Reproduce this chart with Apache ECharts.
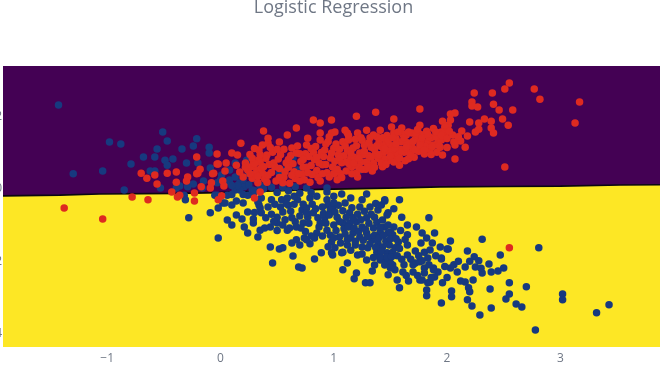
<!DOCTYPE html>
<html><head><meta charset="utf-8">
<script src="https://cdn.jsdelivr.net/npm/echarts@6/dist/echarts.min.js"></script>
<style>html,body{margin:0;padding:0;background:#fff;overflow:hidden}#c{width:660px;height:371px;filter:blur(0.45px)}</style>
</head><body><div id="c"></div>
<script>
const titleText = 'Logistic Regression';
const xTicks = [-1, 0, 1, 2, 3];
const yTicks = [-4, -2, 0, 2];
const boundary = [[-1.92,-0.19],[-1.42,-0.17],[-1.07,-0.14],[-0.36,-0.12],[-0.01,-0.10],[0.88,-0.01],[1.59,0.03],[1.94,0.06],[2.47,0.07],[3.0,0.08],[3.53,0.11],[3.88,0.12]];
const classA = [
[-1.43,2.33],[-0.98,1.30],[-0.88,1.25],[-1.04,0.50],[-1.30,0.42],[-0.79,0.69],[-0.68,0.89],[-0.51,1.58],[-0.47,1.33],[-0.56,1.11],[-0.58,0.89],[-0.49,0.80],[-0.47,0.66],[-0.42,0.83],[-0.34,1.11],[-0.21,1.39],[-0.24,1.19],[-0.10,1.16],[-0.10,1.00],[-0.30,0.72],[-0.20,0.72],[-0.09,0.58],[-0.62,0.50],[-0.58,0.50],[-0.85,-0.03],[-0.53,0.03],[-0.36,0.08],[-0.39,0.03],[-0.24,0.14],[-0.29,0.06],[-0.15,0.22],[-0.16,0.03],[-0.32,-0.17],[-0.31,-0.30],[-0.03,-0.17],[-0.03,0.17],[0.04,-0.39],[0.10,-0.44],[0.14,-0.33],[0.20,-0.39],[0.36,-0.25],[0.34,-0.44],[0.24,-0.17],[0.13,-0.03],[0.08,0.25],[0.08,0.53],[0.13,0.33],[0.17,0.17],[0.21,0.06],[0.17,-0.03],[0.23,0.80],[0.13,0.72],[0.01,0.39],[-0.05,-0.17],[0.06,-0.17],[0.28,-0.03],[0.29,-0.17],[-0.02,-0.53],[1.23,0.53],[0.54,0.53],[0.52,0.44],[0.64,0.86],[0.68,0.53],[0.41,0.17],[0.66,0.06],[0.94,0.03],[0.76,0.03],[0.54,0.39],
[-0.28,-0.80],[-0.02,-1.36],[-0.09,-0.66],[0.02,-0.39],[0.06,-0.86],[0.10,-1.00],[0.14,-0.72],[0.19,-0.83],[0.21,-1.05],[0.24,-1.22],[0.24,-0.64],[0.29,-0.83],[0.29,-0.94],[0.33,-1.33],[0.35,-1.14],[0.39,-1.08],[0.44,-1.05],[0.50,-0.94],[0.50,-0.78],[0.33,-0.36],[0.35,-0.53],[0.36,-0.66],[0.42,-0.50],[0.48,-0.42],[0.55,-0.64],[0.54,-0.30],[0.59,-0.25],[0.63,-0.80],[0.66,-0.91],[0.67,-1.05],[0.59,-1.14],[0.61,-1.08],[0.44,-1.61],[0.52,-1.66],[0.55,-1.63],[0.46,-2.05],[0.64,-1.86],[0.69,-2.16],[0.72,-2.19],[0.83,-1.94],[0.89,-1.77],[0.63,-1.50],[0.67,-1.41],[0.70,-1.55],[0.74,-1.36],[0.79,-1.52],[0.85,-1.22],[0.83,-1.36],[0.72,-0.58],[0.73,-0.94],[0.77,-0.78],[0.82,-0.66],[0.76,-0.53],[0.68,-0.30],[0.79,-0.25],[0.94,-0.30],[0.95,-0.44],[0.86,-0.80],[0.92,-0.80],[0.94,-1.14],[0.98,-1.47],[1.01,-1.63],[0.99,-1.83],[1.07,-1.77],[1.12,-1.55],[1.12,-2.05],[1.08,-2.24],[1.20,-2.33],[1.18,-2.49],[1.28,-2.60],[1.32,-2.60],[1.34,-2.27],[1.29,-0.14],[1.07,-0.14],[0.94,-0.08],[1.45,-0.30],[1.58,-0.30],[1.60,-0.78],[1.84,-0.80],[1.73,-1.05],[1.65,-1.00],[1.65,-1.27],[1.78,-1.22],[1.82,-1.36],[1.89,-1.22],[1.87,-1.50],[1.80,-1.75],[1.72,-1.72],[1.65,-1.55],[1.65,-1.83],[1.94,-1.61],[2.00,-1.66],[1.95,-1.91],[1.83,-1.91],[1.76,-2.02],[1.72,-2.05],[1.80,-2.19],[1.70,-2.30],[1.80,-2.33],[1.88,-2.19],[1.92,-2.30],[1.89,-2.44],[1.83,-2.60],[1.76,-2.52],[1.96,-2.60],[1.82,-2.80],[1.82,-2.96],[1.58,-2.74],[1.56,-2.52],[1.48,-2.38],[1.61,-2.30],[1.52,-2.11],[1.47,-2.02],[1.41,-1.97],[1.36,-2.11],
[0.98,-1.77],[1.05,-1.33],[1.12,-1.41],[1.17,-1.22],[1.23,-1.33],[1.29,-1.22],[1.34,-1.41],[1.39,-1.50],[1.43,-1.61],[1.19,-1.55],[1.25,-1.61],[1.30,-1.63],[1.21,-1.83],[1.29,-1.97],[1.38,-1.75],[1.47,-1.77],[1.52,-1.75],[1.08,-1.75],[0.76,-1.41],[0.88,-0.94],[0.76,-0.66],[0.97,-0.58],[0.99,-0.50],[1.03,-0.78],[1.08,-0.94],[1.14,-0.66],[1.14,-0.94],[1.20,-0.91],[1.29,-0.80],[1.36,-0.78],[1.39,-0.58],[1.42,-0.44],[1.32,-0.50],[1.23,-0.50],[1.10,-0.39],[1.48,-0.66],[1.45,-1.05],[1.50,-1.19],[1.41,-1.19],[1.57,-1.47],[1.52,-1.27],[1.54,-1.63],[1.43,-1.91],[1.50,-2.05],[1.54,-2.24],
[2.03,-1.44],[2.31,-1.39],[2.81,-1.63],[2.18,-1.72],[2.47,-1.83],[2.24,-1.88],[2.28,-1.99],[2.37,-2.08],[2.50,-2.19],[2.45,-2.27],[2.39,-2.30],[2.31,-2.33],[2.25,-2.16],[2.16,-2.16],[2.09,-2.30],[2.03,-2.19],[1.95,-1.94],[2.01,-1.66],[1.85,-1.69],[1.78,-1.99],[1.88,-2.24],[1.85,-2.58],[1.78,-2.52],[2.04,-2.83],[2.04,-2.99],[1.95,-3.16],[2.18,-3.07],[2.22,-3.24],[2.29,-3.49],[2.39,-3.30],[2.19,-2.74],[2.20,-2.85],[2.16,-2.58],[2.23,-2.52],[2.38,-2.77],[2.55,-2.60],[2.55,-2.91],[2.52,-3.05],[2.61,-3.19],[2.66,-3.27],[2.70,-2.71],[3.02,-2.91],[3.02,-3.07],[2.78,-3.91],[3.32,-3.43],[3.43,-3.21],[1.41,-1.88],[1.47,-1.88],[1.45,-2.11],[1.50,-2.19],[1.48,-1.22],[1.48,-1.00],[1.43,-0.86],[1.47,-0.72],[1.45,-0.33],
[0.45,-0.70],[0.47,-0.90],[0.53,-0.50],[0.57,-0.85],[0.60,-0.45],[0.62,-0.62],[0.65,-0.42],[0.70,-0.75],[0.71,-1.08],[0.75,-1.18],[0.78,-0.95],[0.80,-1.30],[0.81,-0.42],[0.84,-0.55],[0.87,-1.05],[0.90,-0.50],[0.91,-0.68],[0.93,-0.95],[0.96,-0.72],[0.97,-1.28],[1.00,-1.00],[1.01,-0.64],[1.02,-1.15],[1.04,-0.45],[1.05,-0.90],[1.06,-1.50],[1.08,-0.60],[1.09,-1.10],[1.10,-1.25],[1.11,-0.78],[1.13,-1.05],[1.15,-1.35],[1.16,-0.52],[1.17,-0.80],[1.18,-1.08],[1.19,-1.45],[1.21,-0.70],[1.22,-1.18],[1.24,-0.85],[1.25,-1.05],[1.26,-1.42],[1.27,-0.62],[1.28,-1.12],[1.30,-1.32],[1.31,-0.95],[1.32,-1.52],[1.33,-0.70],[1.35,-1.08],[1.36,-1.28],[1.37,-1.62],[1.38,-0.92],[1.40,-1.35],[1.41,-1.06],[1.42,-1.72],[1.44,-1.28],[1.46,-1.45],[1.49,-1.55],[1.50,-1.38],[1.51,-1.88],[1.53,-1.05],[1.55,-1.38],[1.56,-1.85],[1.58,-1.65],[1.59,-1.15],[1.60,-1.95],[1.62,-2.10],[1.63,-1.40],[1.64,-2.40],[1.66,-2.55],[1.68,-1.95],[1.70,-2.10],[1.74,-2.40],[1.75,-1.85],[1.77,-1.50],[1.84,-2.10],[1.86,-2.45],[1.90,-1.85],[1.98,-2.15],[2.00,-2.45],[2.06,-2.10],[2.10,-2.00],[2.12,-2.55],[2.20,-2.00],[2.30,-2.20],[1.00,-1.35],[0.90,-1.30],[0.95,-1.60],[1.15,-1.70],[1.25,-1.80],[1.35,-1.90],[0.30,-0.65],[0.40,-0.80],[0.45,-0.30],[0.50,-1.15],[0.55,-1.00],[0.58,-0.40],[0.65,-0.20],[0.73,-0.42],[0.85,-0.20],[1.00,-0.20],[1.15,-0.25],[1.00,-0.38],[1.25,-0.30],[1.37,-0.40],[1.53,-0.55],
[0.20,0.25],[0.25,0.12],[0.30,-0.05],[0.35,0.10],[0.15,0.10],[0.10,0.10],[0.05,0.20],[0.00,0.25],[0.10,-0.15],[0.20,-0.15],[0.38,0.00],[0.45,0.05],[0.50,-0.10],[0.55,0.05],[0.60,-0.05],[0.70,-0.12],[0.80,-0.10],[0.25,0.42],[0.30,0.28]
];
const classB = [
[-0.21,0.89],[-0.70,0.44],[-0.65,0.30],[-0.58,0.39],[-0.56,0.14],[-0.47,0.44],[-0.39,0.47],[-0.39,0.19],[-0.29,0.33],[-0.30,0.22],[-0.18,0.55],[-0.21,0.42],[-0.07,0.42],[-0.03,0.97],[-0.03,0.69],[-0.08,0.17],[-0.78,-0.22],[-0.64,-0.30],[-0.38,-0.22],[-0.23,-0.11],[-0.23,-0.33],[-0.43,-0.08],[-0.17,0.06],[-0.09,0.03],[-1.38,-0.53],[-1.04,-0.83],[0.18,1.27],[0.38,1.61],[0.10,1.00],[0.15,0.94],[0.34,1.08],[-0.02,0.69],[0.05,0.72],[-0.20,0.44],[-0.06,0.44],[0.04,0.50],[0.02,0.22],[0.03,0.08],[-0.36,-0.17],[-0.02,-0.30],[0.01,-0.19],[0.30,-0.25],[0.35,-0.08],[0.29,0.72],[0.35,0.75],[0.41,0.94],[0.42,1.27],[0.32,0.53],[0.24,0.53],[0.17,0.47],[0.20,0.33],[0.28,0.30],[0.37,0.44],[0.41,0.19],[0.33,0.17],[0.14,0.66],
[0.67,1.69],[0.82,1.91],[0.88,1.83],[0.98,1.91],[1.20,2.02],[1.37,2.13],[1.53,1.94],[1.76,2.22],[1.76,1.77],[1.58,0.66],[1.21,0.33],
[2.55,2.94],[2.51,2.77],[2.40,2.66],[2.24,2.66],[2.22,2.41],[2.22,2.30],[2.27,2.27],[2.41,2.35],[2.46,2.19],[2.58,2.19],[2.77,2.77],[2.82,2.49],[3.17,2.41],[3.13,1.83],[2.51,0.61],[2.07,0.83],[2.07,2.11],[2.03,2.08],[1.96,1.88],[2.03,1.91],[2.01,1.77],[1.98,1.72],[1.99,1.58],[1.95,1.58],[2.20,1.86],[2.33,1.94],[2.39,1.88],[2.49,1.94],[2.54,1.77],[2.28,1.83],[2.28,1.66],[2.13,1.61],[2.25,1.58],[2.18,1.47],[2.39,1.69],[2.41,1.55],[2.12,1.33],[2.06,1.30],[2.07,1.22],[2.16,1.16],[1.95,1.36],[1.96,0.94],[1.94,1.16],[2.55,-1.63],
[0.42,1.41],[0.37,1.22],[0.52,1.30],[0.59,1.50],[0.63,1.14],[0.77,1.41],[0.76,1.22],[0.88,1.55],[0.88,1.36],[0.98,1.55],[1.01,1.58],[1.10,1.63],[1.12,1.55],[1.21,1.55],[1.29,1.63],[1.41,1.63],[1.51,1.72],[1.60,1.69],[1.69,1.55],[1.79,1.50],[1.83,1.30],[1.88,1.22],[1.92,1.30],
[0.26,0.96],[0.27,0.62],[0.31,0.41],[0.34,0.81],[0.36,0.58],[0.39,0.28],[0.43,0.68],[0.45,0.46],[0.46,1.02],[0.49,0.22],[0.51,0.83],[0.52,0.57],[0.56,0.33],[0.56,1.10],[0.58,0.72],[0.61,0.16],[0.62,0.93],[0.65,0.48],[0.66,0.29],[0.68,1.19],[0.71,0.76],[0.72,0.41],[0.75,0.98],[0.76,0.60],[0.79,0.19],[0.80,1.12],[0.83,0.82],[0.85,0.51],[0.86,0.32],[0.89,1.01],[0.90,0.67],[0.93,1.25],[0.94,0.45],[0.97,0.86],[0.99,0.61],[1.00,1.13],[1.03,0.26],[1.04,0.95],[1.07,0.73],[1.08,1.31],[1.11,0.50],[1.12,1.08],[1.15,0.86],[1.16,0.62],[1.19,1.38],[1.20,0.44],[1.23,1.00],[1.24,0.75],[1.27,1.22],[1.28,0.55],[1.31,0.92],[1.32,1.42],[1.35,0.71],[1.36,1.10],[1.39,0.85],[1.40,1.30],[1.43,0.62],[1.44,1.02],[1.47,1.48],[1.48,0.79],[1.51,1.20],[1.52,0.95],[1.55,1.40],[1.56,0.84],[1.59,1.10],[1.60,1.31],[1.63,0.78],[1.64,1.50],[1.67,1.00],[1.68,1.20],[1.71,0.88],[1.72,1.38],[1.75,1.05],[1.76,1.52],[1.79,1.15],[1.80,0.97],[1.82,1.60],[1.85,1.10],[1.86,1.42],[1.88,1.68],[1.91,1.02],[1.92,1.55],[1.94,1.37],[1.86,0.96],
[0.30,1.12],[0.44,1.15],[0.47,0.72],[0.53,0.95],[0.55,0.17],[0.60,0.60],[0.70,0.98],[0.73,0.60],[0.74,0.26],[0.78,0.90],[0.81,0.40],[0.84,1.18],[0.87,0.72],[0.91,0.90],[0.95,1.32],[0.96,0.33],[1.01,0.77],[1.05,1.10],[1.06,0.42],[1.09,0.92],[1.13,1.36],[1.14,0.68],[1.17,1.14],[1.18,0.88],[1.22,0.60],[1.25,1.35],[1.26,0.95],[1.29,0.75],[1.33,1.16],[1.34,0.50],[1.37,0.98],[1.38,1.45],[1.42,1.18],[1.45,0.84],[1.46,1.28],[1.49,1.05],[1.53,1.55],[1.54,1.12],[1.57,0.96],[1.61,1.52],[1.62,1.02],[1.65,1.28],[1.66,0.84],[1.70,1.12],[1.73,1.55],[1.77,1.32],[1.81,1.18],[1.84,1.45],[1.90,1.45],[1.93,1.20],
[0.33,0.35],[0.38,0.62],[0.40,0.85],[0.42,0.38],[0.48,0.62],[0.50,1.10],[0.52,0.32],[0.57,0.48],[0.60,0.82],[0.63,0.38],[0.64,0.70],[0.67,1.00],[0.69,0.42],[0.70,0.22],[0.73,0.82],[0.77,0.45],[0.80,0.65],[0.82,1.02],[0.85,0.88],[0.88,0.22],[0.90,0.42],[0.92,1.08],[0.93,0.68],[0.96,1.45],[0.98,1.00],[1.00,0.42],[1.02,1.25],[1.03,0.55],[1.05,0.85],[1.07,0.32],[1.10,1.20],[1.11,0.75],[1.13,1.48],[1.15,1.00],[1.16,0.42],[1.18,0.72],[1.20,1.20],[1.22,0.85],[1.24,1.42],[1.25,0.55],[1.27,1.05],[1.30,0.62],[1.31,1.28],[1.33,0.88],[1.35,1.50],[1.36,0.60],[1.38,1.20],[1.40,0.95],[1.42,0.72],[1.43,1.42],[1.45,1.12],[1.46,0.68],[1.48,1.35],[1.50,0.90],[1.52,1.42],[1.53,0.75],[1.55,1.25],[1.57,1.58],[1.58,0.85],[1.60,1.05],[1.62,1.42],[1.64,1.15],[1.66,1.58],[1.68,0.95],[1.70,1.32],[1.72,1.08],[1.74,1.65],[1.76,1.22],[1.78,1.42],[1.80,1.08],[1.83,1.52],[1.87,1.18],[1.90,1.58],[1.95,1.48],[2.00,1.40],[2.05,1.50],[2.10,1.45],[2.00,1.15],[2.02,1.60],
[0.22,0.72],[0.26,0.42],[0.22,0.60],[0.30,0.70],[0.35,0.95],[0.28,0.85]
];
const chart = echarts.init(document.getElementById('c'), null, {renderer:'canvas'});
const grey = '#6f7785';
chart.setOption({
  animation:false,
  backgroundColor:'#ffffff',
  title:{text:titleText,left:328.5,top:-6,textAlign:'center',textStyle:{fontFamily:'Open Sans',fontSize:18,fontWeight:'normal',color:grey}},
  grid:{left:3,right:0,top:66,bottom:24,show:true,backgroundColor:'#440154',borderWidth:0,containLabel:false,outerBoundsMode:'none'},
  xAxis:{type:'value',min:-1.92,max:3.88,axisLine:{show:false},axisTick:{show:false},splitLine:{show:false},
    axisLabel:{customValues:xTicks,margin:6,fontFamily:'Open Sans',fontSize:12,color:grey,formatter:v=>String(v).replace('-','\u2212')}},
  yAxis:{type:'value',min:-4.38,max:3.41,axisLine:{show:false},axisTick:{show:false},splitLine:{show:false},
    axisLabel:{customValues:yTicks,margin:1,fontFamily:'Open Sans',fontSize:12,color:grey,formatter:v=>String(v).replace('-','\u2212')}},
  series:[
    {type:'line',data:boundary,showSymbol:false,silent:true,z:1,lineStyle:{color:'#0b0710',width:1.6},areaStyle:{color:'#fde725',origin:'start',opacity:1}},
    {type:'scatter',data:classA,symbolSize:7.5,z:2,itemStyle:{color:'#17397f',opacity:1}},
    {type:'scatter',data:classB,symbolSize:7.5,z:3,itemStyle:{color:'#de2a20',opacity:1}}
  ]
});
</script></body></html>
